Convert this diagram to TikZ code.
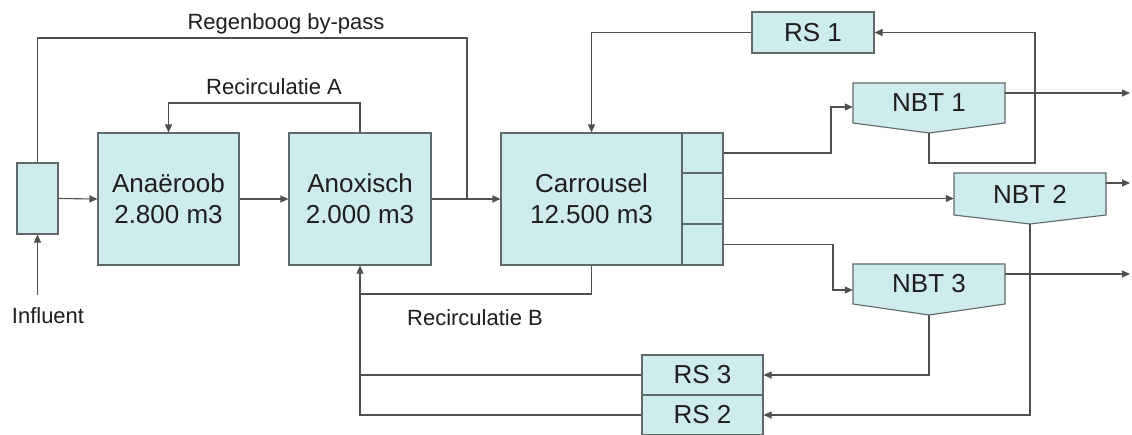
\documentclass[tikz,border=0pt]{standalone}
\usepackage{fontspec}
\setmainfont{Liberation Sans}
\usetikzlibrary{arrows.meta}
\definecolor{boxfill}{RGB}{206,235,238}
\definecolor{boxline}{RGB}{95,105,105}
\definecolor{wirec}{RGB}{80,80,80}
\definecolor{txt}{RGB}{30,30,30}
\begin{document}
\begin{tikzpicture}[x=1pt,y=-1pt,
  box/.style={draw=boxline, fill=boxfill, line width=1.1pt, inner sep=0pt, align=center,
    font=\fontsize{26}{31}\selectfont, text=txt},
  shapefill/.style={draw=boxline, fill=boxfill, line width=1.1pt, line join=miter},
  boxtext/.style={inner sep=0pt, align=center, font=\fontsize{26}{31}\selectfont, text=txt},
  wire/.style={draw=wirec, line width=1.1pt},
  arr/.style={wire, -{Triangle[length=8pt,width=7pt]}},
  lbl/.style={font=\fontsize{22}{26}\selectfont, text=txt, inner sep=0pt}]
\fill[white] (0,0) rectangle (1132,434);
\useasboundingbox (0,0) rectangle (1132,434);
% boxes
\node[box, minimum width=41pt, minimum height=71pt] (ib) at (37.5,198.5) {};
\node[box, minimum width=141pt, minimum height=132pt] (anae) at (168.5,199) {Anaëroob\\2.800 m3};
\node[box, minimum width=142pt, minimum height=132pt] (anox) at (360,199) {Anoxisch\\2.000 m3};
\node[box, minimum width=181pt, minimum height=132pt] (carr) at (591.5,199) {Carrousel\\12.500 m3};
\node[box, minimum width=41pt, minimum height=40pt] (c1) at (702.5,153) {};
\node[box, minimum width=41pt, minimum height=51pt] (c2) at (702.5,198.5) {};
\node[box, minimum width=41pt, minimum height=41pt] (c3) at (702.5,244.5) {};
\node[box, minimum width=122pt, minimum height=41pt] (rs1) at (813,32.5) {RS 1};
\node[box, minimum width=121pt, minimum height=40pt] (rs3) at (702.5,375) {RS 3};
\node[box, minimum width=121pt, minimum height=40pt] (rs2) at (702.5,415) {RS 2};
% NBT shapes
\path[shapefill] (853,83) -- (1005,83) -- (1005,123) -- (929,133) -- (853,123) -- cycle;
\node[boxtext, minimum width=152pt, minimum height=40pt] (nbt1) at (929,103) {NBT 1};
\coordinate (nbt1p) at (929,133);
\path[shapefill] (954,173) -- (1106,173) -- (1106,215) -- (1030,224) -- (954,215) -- cycle;
\node[boxtext, minimum width=152pt, minimum height=42pt] (nbt2) at (1030,194) {NBT 2};
\coordinate (nbt2p) at (1030,224);
\path[shapefill] (853,264) -- (1005,264) -- (1005,304) -- (929,315) -- (853,304) -- cycle;
\node[boxtext, minimum width=152pt, minimum height=40pt] (nbt3) at (929,284) {NBT 3};
\coordinate (nbt3p) at (929,315);
% labels
\node[lbl] (tinfl) at (48,316) {Influent};
\node[lbl] (tbp) at (286,24) {Regenboog by-pass};
\node[lbl] (tra) at (274,87) {Recirculatie A};
\node[lbl] (trb) at (475,318) {Recirculatie B};
% coordinates
\coordinate (infl) at (37.5,295);
\coordinate (bp) at (467,38);
\coordinate (ra) at (265,103);
\coordinate (rb) at (360,294);
\coordinate (k1a) at (831,153);
\coordinate (k1b) at (831,107);
\coordinate (k3a) at (833,244.5);
\coordinate (k3b) at (833,290);
\coordinate (k4) at (1035,163);
\coordinate (o1) at (1130,93);
\coordinate (o2) at (1130,183);
\coordinate (o3) at (1130,274);
% connectors
\draw[arr] (infl) -- (ib.south);
\draw[arr] (ib.east) -- (anae.west);
\draw[arr] (anae.east) -- (anox.west);
\draw[arr] (anox.east) -- (carr.west);
\draw[wire] (ib.north) |- (bp) -- (bp |- anox.east);
\draw[arr] (anox.north) |- (ra) -| (anae.north);
\draw[wire] (carr.south) |- (rb);
\draw[arr] (rs2.west) -| (anox.south);
\draw[wire] (rs3.west) -- (rs3.west -| anox.south);
\draw[arr] (rs1.west) -| (carr.north);
\draw[arr] (c1.east) -- (k1a) -- (k1b) -- (nbt1.west |- k1b);
\draw[arr] (c2.east) -- (c2.east -| nbt2.west);
\draw[arr] (c3.east) -- (k3a) -- (k3b) -- (nbt3.west |- k3b);
\draw[arr] (nbt1p) |- (k4) |- (rs1.east);
\draw[arr] (nbt1.east |- o1) -- (o1);
\draw[arr] (nbt2.east |- o2) -- (o2);
\draw[arr] (nbt3.east |- o3) -- (o3);
\draw[arr] (nbt2p) |- (rs2.east);
\draw[arr] (nbt3p) |- (rs3.east);
\end{tikzpicture}
\end{document}
